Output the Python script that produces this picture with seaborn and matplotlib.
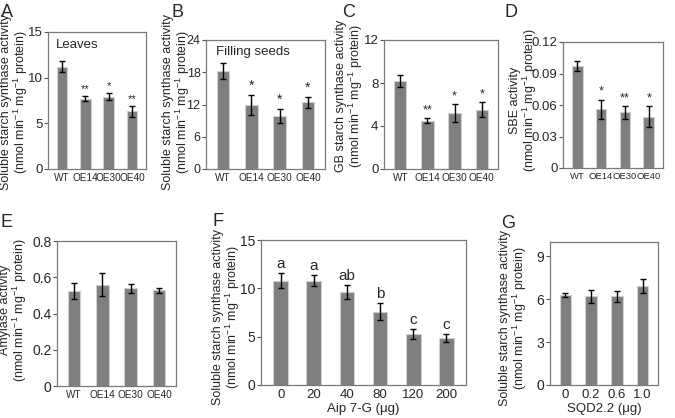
import matplotlib
matplotlib.use('Agg')
import matplotlib.pyplot as plt
import seaborn as sns
import pandas as pd

sns.set_theme(style="white")
plt.rcParams['font.family'] = ['Liberation Sans', 'DejaVu Sans']
plt.rcParams['mathtext.fontset'] = 'custom'
plt.rcParams['mathtext.rm'] = 'Liberation Sans'
plt.rcParams['mathtext.it'] = 'Liberation Sans'

# --- data ---
lines = ['WT', 'OE14', 'OE30', 'OE40']

a_mean = [11.2, 7.7, 7.9, 6.3]
a_sd = [0.6, 0.3, 0.4, 0.6]
a_sig = ['', '**', '*', '**']

b_mean = [18.3, 11.9, 9.9, 12.4]
b_sd = [1.5, 1.9, 1.3, 1.0]
b_sig = ['', '*', '*', '*']

c_mean = [8.2, 4.5, 5.2, 5.5]
c_sd = [0.55, 0.2, 0.85, 0.7]
c_sig = ['', '**', '*', '*']

d_mean = [0.097, 0.056, 0.053, 0.049]
d_sd = [0.005, 0.009, 0.006, 0.010]
d_sig = ['', '*', '**', '*']

e_mean = [0.525, 0.56, 0.54, 0.527]
e_sd = [0.045, 0.065, 0.025, 0.016]

aip_dose = ['0', '20', '40', '80', '120', '200']
f_mean = [10.8, 10.8, 9.6, 7.6, 5.3, 4.9]
f_sd = [0.8, 0.6, 0.7, 0.9, 0.5, 0.4]
f_sig = ['a', 'a', 'ab', 'b', 'c', 'c']

sqd_dose = ['0', '0.2', '0.6', '1.0']
g_mean = [6.3, 6.2, 6.2, 6.9]
g_sd = [0.12, 0.45, 0.4, 0.5]

SS_LABEL = 'Soluble starch synthase activity\n(nmol min$^{-1}$ mg$^{-1}$ protein)'
UNIT = '(nmol min$^{-1}$ mg$^{-1}$ protein)'

W, H = 675, 418


def px(x, y):
    """pixel position (from top-left) -> figure fraction"""
    return x / W, 1 - y / H


def bar_panel(fig, box, cats, mean, sd, ylim, yticks, yticklabels, ylabel, label_xy,
              letter, letter_xy, sig=None, sig_size=8, xlabel=None, note=None, xsize=7.2,
              ysize=9.5):
    # box = (left, top, right, bottom) in pixels
    l, t, r, b = box
    ax = fig.add_axes([l / W, 1 - b / H, (r - l) / W, (b - t) / H])
    df = pd.DataFrame({'cat': cats, 'val': mean})
    sns.barplot(data=df, x='cat', y='val', ax=ax, color='#7f7f7f', saturation=1,
                width=0.45, edgecolor='#d0d0d0', linewidth=0.8, errorbar=None)
    ax.errorbar(range(len(cats)), mean, yerr=sd, fmt='none', ecolor='black',
                elinewidth=1, capsize=2.5, capthick=1)
    if sig:
        span = ylim[1] - ylim[0]
        for i, s in enumerate(sig):
            if s:
                ax.text(i, mean[i] + sd[i] + span * 0.015, s, ha='center', va='bottom',
                        fontsize=sig_size)
    ax.set_ylim(*ylim)
    ax.set_yticks(yticks)
    ax.set_yticklabels(yticklabels, fontsize=ysize)
    ax.set_xlim(-0.6, len(cats) - 0.4)
    ax.tick_params(axis='x', labelsize=xsize, length=0, pad=3)
    ax.tick_params(axis='y', length=3, width=0.8, color='#555555', pad=1, left=True)
    ax.set_ylabel('')
    ax.set_xlabel(xlabel if xlabel else '', fontsize=9.5, labelpad=1)
    for sp in ax.spines.values():
        sp.set_color('#7a7a7a')
        sp.set_linewidth(0.9)
    if note:
        ax.text(0.08, 0.95, note, transform=ax.transAxes, ha='left', va='top', fontsize=9.5)
    lx, ly = px(*label_xy)
    fig.text(lx, ly, ylabel, rotation=90, ha='center', va='center', fontsize=9,
             linespacing=0.95)
    fx, fy = px(*letter_xy)
    fig.text(fx, fy, letter, fontsize=13, ha='left', va='top')
    return ax


fig = plt.figure(figsize=(6.75, 4.18), dpi=100)

bar_panel(fig, (48, 32, 146, 169), lines, a_mean, a_sd, (0, 15), [0, 5, 10, 15],
          ['0', '5', '10', '15'], SS_LABEL, (15, 102), 'A', (1, 4), sig=a_sig, note='Leaves')
bar_panel(fig, (206, 40, 325, 169), lines, b_mean, b_sd, (0, 24), [0, 6, 12, 18, 24],
          ['0', '6', '12', '18', '24'], SS_LABEL, (177, 102), 'B', (171, 4), sig=b_sig,
          sig_size=10, note='Filling seeds', ysize=9)
bar_panel(fig, (384, 40, 498, 169), lines, c_mean, c_sd, (0, 12), [0, 4, 8, 12],
          ['0', '4', '8', '12'], 'GB starch synthase activity\n' + UNIT, (350, 96),
          'C', (342, 4), sig=c_sig, sig_size=9)
bar_panel(fig, (563, 42, 663, 168), lines, d_mean, d_sd, (0, 0.12),
          [0, 0.03, 0.06, 0.09, 0.12], ['0', '0.03', '0.06', '0.09', '0.12'],
          'SBE activity\n' + UNIT, (524, 100), 'D', (505, 4), sig=d_sig, sig_size=9,
          xsize=6.8)
bar_panel(fig, (57, 241, 176, 386), lines, e_mean, e_sd, (0, 0.8), [0, 0.2, 0.4, 0.6, 0.8],
          ['0', '0.2', '0.4', '0.6', '0.8'], 'Amylase activity\n' + UNIT, (14, 310),
          'E', (1, 214), ysize=10)
bar_panel(fig, (261, 240, 466, 385), aip_dose, f_mean, f_sd, (0, 15), [0, 5, 10, 15],
          ['0', '5', '10', '15'], SS_LABEL, (227, 317), 'F', (212, 213), sig=f_sig,
          sig_size=11, xlabel='Aip 7-G (μg)', xsize=9.5, ysize=10)
bar_panel(fig, (550, 242, 658, 385), sqd_dose, g_mean, g_sd, (0, 10), [0, 3, 6, 9],
          ['0', '3', '6', '9'], SS_LABEL, (514, 318), 'G', (501, 215),
          xlabel='SQD2.2 (μg)', xsize=9.5, ysize=10)

fig.savefig('out.png', dpi=100)
